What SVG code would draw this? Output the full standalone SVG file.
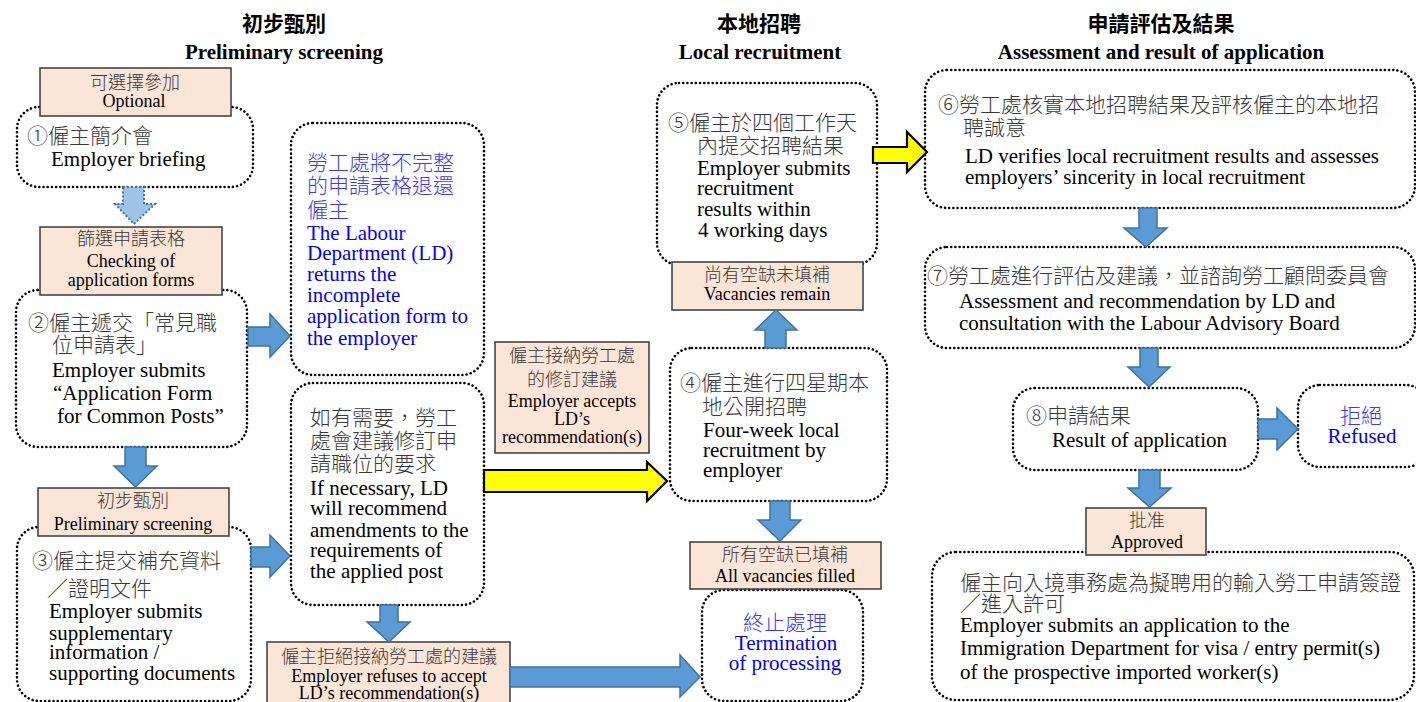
<svg xmlns="http://www.w3.org/2000/svg" width="1416" height="702" viewBox="0 0 1416 702">
<style>
.dot{fill:#fff;stroke:#000;stroke-width:2.6;stroke-dasharray:0.01 4.2;stroke-linecap:round}
.lab{fill:#FBE5D6;stroke:#3a3a3a;stroke-width:1.5}
.t{font-family:'Liberation Serif','Times New Roman',serif;font-size:21px;fill:#000}
.en{font-family:'Liberation Serif','Times New Roman',serif;font-size:21px}
.zh{font-family:'Noto Sans CJK TC','Noto Sans CJK SC',sans-serif;font-size:21px;font-weight:300;fill:#383838}
.lt{font-family:'Liberation Serif','Times New Roman',serif;font-size:18px;fill:#000}
.len{font-family:'Liberation Serif','Times New Roman',serif;font-size:18px}
.lzh{font-family:'Noto Sans CJK TC','Noto Sans CJK SC',sans-serif;font-size:18px;font-weight:300;fill:#383838}
.blue{fill:#0000ff}
.lblue{fill:#3a3aff}
.h1{font-family:'Noto Sans CJK TC','Noto Sans CJK SC',sans-serif;font-size:21px;font-weight:bold;fill:#000}
.h2{font-family:'Liberation Serif','Times New Roman',serif;font-size:21px;font-weight:bold;fill:#000}
.arr{fill:#5B9BD5;stroke:#41719C;stroke-width:1.5}
.yarr{fill:#FFFF00;stroke:#000;stroke-width:2.2}
.darr{fill:#9DC3E6;stroke:#41719C;stroke-width:2;stroke-dasharray:2 2}
.c{text-anchor:middle}
</style>
<rect width="1416" height="702" fill="#fff"/>

<g id="headers">
<text class="h1 c" x="284" y="31">初步甄別</text>
<text class="h2 c" x="284" y="59">Preliminary screening</text>
<text class="h1 c" x="759" y="31">本地招聘</text>
<text class="h2 c" x="760" y="59">Local recruitment</text>
<text class="h1 c" x="1161" y="31">申請評估及結果</text>
<text class="h2 c" x="1161" y="59">Assessment and result of application</text>
</g>

<g id="node1">
<rect class="dot" x="17" y="107" width="236" height="80" rx="22"/>
<text class="t"><tspan class="zh" x="27" y="143">①僱主簡介會</tspan><tspan class="en" x="51" y="166">Employer briefing</tspan></text>
</g>

<g id="node2">
<rect class="dot" x="16" y="290" width="231" height="157" rx="22"/>
<text class="t"><tspan class="zh" x="28" y="330">②僱主遞交「常見職</tspan><tspan class="zh" x="52" y="352">位申請表」</tspan><tspan class="en" x="52" y="377">Employer submits</tspan><tspan class="en" x="53" y="400">“Application Form</tspan><tspan class="en" x="57" y="423">for Common Posts”</tspan></text>
</g>

<g id="node3">
<rect class="dot" x="17" y="527" width="234" height="174" rx="22"/>
<text class="t"><tspan class="zh" x="32" y="568">③僱主提交補充資料</tspan><tspan class="zh" x="47" y="596">／證明文件</tspan><tspan class="en" x="49" y="618">Employer submits</tspan><tspan class="en" x="49" y="640">supplementary</tspan><tspan class="en" x="49" y="659">information /</tspan><tspan class="en" x="49" y="680">supporting documents</tspan></text>
</g>

<g id="node-return">
<rect class="dot" x="291" y="123" width="193" height="252" rx="22"/>
<text class="t blue"><tspan class="zh lblue" x="307" y="170">勞工處將不完整</tspan><tspan class="zh lblue" x="307" y="193">的申請表格退還</tspan><tspan class="zh lblue" x="307" y="217">僱主</tspan><tspan class="en" x="307" y="240">The Labour</tspan><tspan class="en" x="307" y="260">Department (LD)</tspan><tspan class="en" x="307" y="281">returns the</tspan><tspan class="en" x="307" y="302">incomplete</tspan><tspan class="en" x="307" y="323">application form to</tspan><tspan class="en" x="307" y="345">the employer</tspan></text>
</g>

<g id="node-amend">
<rect class="dot" x="291" y="383" width="193" height="222" rx="22"/>
<text class="t"><tspan class="zh" x="310" y="425">如有需要，勞工</tspan><tspan class="zh" x="310" y="448">處會建議修訂申</tspan><tspan class="zh" x="310" y="471">請職位的要求</tspan><tspan class="en" x="310" y="495">If necessary, LD</tspan><tspan class="en" x="310" y="515">will recommend</tspan><tspan class="en" x="310" y="537">amendments to the</tspan><tspan class="en" x="310" y="557">requirements of</tspan><tspan class="en" x="310" y="578">the applied post</tspan></text>
</g>

<g id="node5">
<rect class="dot" x="657" y="83" width="220" height="182" rx="22"/>
<text class="t"><tspan class="zh" x="668" y="130">⑤僱主於四個工作天</tspan><tspan class="zh" x="697" y="153">內提交招聘結果</tspan><tspan class="en" x="697" y="175">Employer submits</tspan><tspan class="en" x="697" y="195">recruitment</tspan><tspan class="en" x="697" y="216">results within</tspan><tspan class="en" x="698" y="237">4 working days</tspan></text>
</g>

<g id="node4">
<rect class="dot" x="670" y="348" width="217" height="153" rx="22"/>
<text class="t"><tspan class="zh" x="680" y="390">④僱主進行四星期本</tspan><tspan class="zh" x="702" y="414">地公開招聘</tspan><tspan class="en" x="703" y="437">Four-week local</tspan><tspan class="en" x="703" y="457">recruitment by</tspan><tspan class="en" x="703" y="477">employer</tspan></text>
</g>

<g id="node-termination">
<rect class="dot" x="702" y="590" width="161" height="111" rx="22"/>
<text class="t blue c"><tspan class="zh lblue" x="785" y="630">終止處理</tspan><tspan class="en" x="786" y="650">Termination</tspan><tspan class="en" x="785" y="670">of processing</tspan></text>
</g>

<g id="node6">
<rect class="dot" x="925" y="70" width="490" height="138" rx="22"/>
<text class="t"><tspan class="zh" x="938" y="112">⑥勞工處核實本地招聘結果及評核僱主的本地招</tspan><tspan class="zh" x="963" y="135">聘誠意</tspan><tspan class="en" x="965" y="163">LD verifies local recruitment results and assesses</tspan><tspan class="en" x="965" y="184">employers’ sincerity in local recruitment</tspan></text>
</g>

<g id="node7">
<rect class="dot" x="925" y="247" width="490" height="101" rx="22"/>
<text class="t"><tspan class="zh" x="927" y="283">⑦勞工處進行評估及建議，並諮詢勞工顧問委員會</tspan><tspan class="en" x="959" y="308">Assessment and recommendation by LD and</tspan><tspan class="en" x="959" y="330">consultation with the Labour Advisory Board</tspan></text>
</g>

<g id="node8">
<rect class="dot" x="1013" y="388" width="245" height="82" rx="22"/>
<text class="t"><tspan class="zh" x="1026" y="423">⑧申請結果</tspan><tspan class="en" x="1052" y="447">Result of application</tspan></text>
</g>

<g id="node-refused">
<rect class="dot" x="1298" y="385" width="130" height="82" rx="22"/>
<text class="t blue c"><tspan class="zh lblue" x="1361" y="423">拒絕</tspan><tspan class="en" x="1362" y="443">Refused</tspan></text>
</g>

<g id="node-final">
<rect class="dot" x="932" y="552" width="482" height="148" rx="24"/>
<text class="t"><tspan class="zh" x="960" y="590">僱主向入境事務處為擬聘用的輸入勞工申請簽證</tspan><tspan class="zh" x="960" y="611">／進入許可</tspan><tspan class="en" x="960" y="632">Employer submits an application to the</tspan><tspan class="en" x="960" y="655">Immigration Department for visa / entry permit(s)</tspan><tspan class="en" x="960" y="679">of the prospective imported worker(s)</tspan></text>
</g>

<g id="label-optional">
<rect class="lab" x="40" y="68" width="191" height="48"/>
<text class="lt c"><tspan class="lzh" x="135" y="89">可選擇參加</tspan><tspan class="len" x="134" y="107">Optional</tspan></text>
</g>

<g id="label-checking">
<rect class="lab" x="40" y="227" width="182" height="68"/>
<text class="lt c"><tspan class="lzh" x="131" y="245">篩選申請表格</tspan><tspan class="len" x="131" y="267">Checking of</tspan><tspan class="len" x="131" y="286">application forms</tspan></text>
</g>

<g id="label-prelim">
<rect class="lab" x="38" y="488" width="191" height="48"/>
<text class="lt c"><tspan class="lzh" x="133" y="507">初步甄別</tspan><tspan class="len" x="133" y="530">Preliminary screening</tspan></text>
</g>

<g id="label-refuses">
<rect class="lab" x="267" y="642" width="243" height="70"/>
<text class="lt c"><tspan class="lzh" x="389" y="663">僱主拒絕接納勞工處的建議</tspan><tspan class="len" x="389" y="682">Employer refuses to accept</tspan><tspan class="len" x="389" y="699">LD’s recommendation(s)</tspan></text>
</g>

<g id="label-accepts">
<rect class="lab" x="495" y="342" width="154" height="111"/>
<text class="lt c"><tspan class="lzh" x="572" y="362">僱主接納勞工處</tspan><tspan class="lzh" x="572" y="386">的修訂建議</tspan><tspan class="len" x="572" y="407">Employer accepts</tspan><tspan class="len" x="572" y="425">LD’s</tspan><tspan class="len" x="572" y="443">recommendation(s)</tspan></text>
</g>

<g id="label-remain">
<rect class="lab" x="672" y="262" width="191" height="48"/>
<text class="lt c"><tspan class="lzh" x="767" y="281">尚有空缺未填補</tspan><tspan class="len" x="767" y="300">Vacancies remain</tspan></text>
</g>

<g id="label-filled">
<rect class="lab" x="690" y="542" width="191" height="47"/>
<text class="lt c"><tspan class="lzh" x="785" y="561">所有空缺已填補</tspan><tspan class="len" x="785" y="582">All vacancies filled</tspan></text>
</g>

<g id="label-approved">
<rect class="lab" x="1086" y="508" width="120" height="47"/>
<text class="lt c"><tspan class="lzh" x="1147" y="527">批准</tspan><tspan class="len" x="1147" y="548">Approved</tspan></text>
</g>

<g id="connectors">
<polygon class="darr" points="123,187 144,187 144,204 155,204 134,224 115,204 123,204"/>
<polygon class="arr" points="125,447 146,447 146,466 157,466 135.5,487 114,466 125,466"/>
<polygon class="arr" points="248,327 270,327 270,314 290,336 270,357 270,346 248,346"/>
<polygon class="arr" points="251,547 270,547 270,535 290,556 270,577 270,567 251,567"/>
<polygon class="arr" points="380,605 398,605 398,622 410,622 389,642 367,622 380,622"/>
<polygon class="arr" points="510,667 680,667 680,655 700,677 680,697 680,687 510,687"/>
<polygon class="yarr" points="484,470 647,470 647,462 667,481 647,501 647,492 484,492"/>
<polygon class="arr" points="765,348 786,348 786,330 797,330 776,310 755,330 765,330"/>
<polygon class="arr" points="770,501 790,501 790,520 801,520 780,541 758,520 770,520"/>
<polygon class="yarr" points="873,147 907,147 907,132 927,152 907,172 907,163 873,163"/>
<polygon class="arr" points="1139,208 1157,208 1157,228 1167,228 1146,247 1124,228 1139,228"/>
<polygon class="arr" points="1140,348 1158,348 1158,367 1170,367 1149,387 1128,367 1140,367"/>
<polygon class="arr" points="1258,419 1277,419 1277,408 1298,429 1277,450 1277,439 1258,439"/>
<polygon class="arr" points="1139,470 1160,470 1160,488 1171,488 1149.5,507 1128,488 1139,488"/>
</g>
</svg>
